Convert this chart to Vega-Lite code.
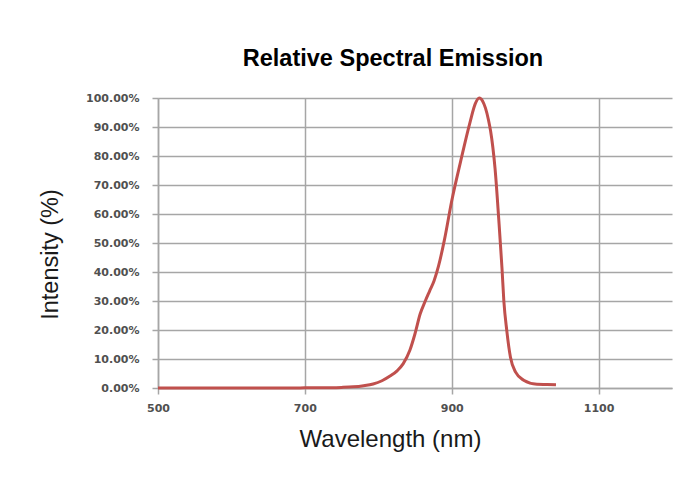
{
  "$schema": "https://vega.github.io/schema/vega-lite/v6.json",
  "width": 514,
  "height": 290,
  "autosize": "none",
  "padding": {"left": 158, "top": 98, "right": 22, "bottom": 92},
  "background": "white",
  "title": {
    "text": "Relative Spectral Emission",
    "font": "Liberation Sans",
    "fontSize": 23.5,
    "fontWeight": "bold",
    "color": "#000000",
    "offset": 22,
    "dx": -22
  },
  "data": {
    "values": [
      {"wavelength": 500, "intensity": 0},
      {"wavelength": 550, "intensity": 0},
      {"wavelength": 600, "intensity": 0},
      {"wavelength": 650, "intensity": 0},
      {"wavelength": 700, "intensity": 0.0005},
      {"wavelength": 730, "intensity": 0.001},
      {"wavelength": 750, "intensity": 0.002},
      {"wavelength": 766, "intensity": 0.004},
      {"wavelength": 780, "intensity": 0.008},
      {"wavelength": 793, "intensity": 0.014},
      {"wavelength": 805, "intensity": 0.025},
      {"wavelength": 816, "intensity": 0.041},
      {"wavelength": 826, "intensity": 0.06},
      {"wavelength": 834, "intensity": 0.084},
      {"wavelength": 843, "intensity": 0.13},
      {"wavelength": 850, "intensity": 0.187},
      {"wavelength": 857, "intensity": 0.255},
      {"wavelength": 864, "intensity": 0.30},
      {"wavelength": 870, "intensity": 0.335},
      {"wavelength": 876, "intensity": 0.37},
      {"wavelength": 882, "intensity": 0.42},
      {"wavelength": 890, "intensity": 0.51},
      {"wavelength": 900, "intensity": 0.645},
      {"wavelength": 912, "intensity": 0.78},
      {"wavelength": 925, "intensity": 0.917},
      {"wavelength": 932, "intensity": 0.98},
      {"wavelength": 937.5, "intensity": 1.0},
      {"wavelength": 942, "intensity": 0.99},
      {"wavelength": 946, "intensity": 0.965},
      {"wavelength": 950, "intensity": 0.925},
      {"wavelength": 953, "intensity": 0.885},
      {"wavelength": 956, "intensity": 0.83},
      {"wavelength": 959, "intensity": 0.757},
      {"wavelength": 964, "intensity": 0.584},
      {"wavelength": 968.5, "intensity": 0.412},
      {"wavelength": 971, "intensity": 0.30},
      {"wavelength": 975, "intensity": 0.198},
      {"wavelength": 980, "intensity": 0.106},
      {"wavelength": 987, "intensity": 0.055},
      {"wavelength": 998, "intensity": 0.027},
      {"wavelength": 1016, "intensity": 0.013},
      {"wavelength": 1030, "intensity": 0.012},
      {"wavelength": 1042, "intensity": 0.011}
    ]
  },
  "mark": {"type": "line", "color": "#c0504d", "strokeWidth": 3, "interpolate": "monotone"},
  "encoding": {
    "x": {
      "field": "wavelength",
      "type": "quantitative",
      "scale": {"domain": [500, 1200], "nice": false, "zero": false},
      "axis": {
        "title": "Wavelength (nm)",
        "values": [500, 700, 900, 1100],
        "format": "d",
        "labelFlush": false,
        "grid": true,
        "gridColor": "#a6a6a6",
        "gridWidth": 1.5,
        "domainColor": "#a6a6a6",
        "domainWidth": 1.5,
        "tickColor": "#a6a6a6",
        "tickWidth": 1.5,
        "tickSize": 6,
        "labelFont": "DejaVu Sans",
        "labelFontWeight": "bold",
        "labelFontSize": 11,
        "labelColor": "#505050",
        "labelPadding": 8,
        "titleFont": "Liberation Sans",
        "titleFontSize": 24,
        "titleFontWeight": "normal",
        "titleColor": "#1a1a1a",
        "titlePadding": 14,
        "titleX": 232
      }
    },
    "y": {
      "field": "intensity",
      "type": "quantitative",
      "scale": {"domain": [0, 1], "nice": false},
      "axis": {
        "title": "Intensity (%)",
        "values": [0, 0.1, 0.2, 0.3, 0.4, 0.5, 0.6, 0.7, 0.8, 0.9, 1.0],
        "format": ".2%",
        "grid": true,
        "gridColor": "#a6a6a6",
        "gridWidth": 1.5,
        "domainColor": "#a6a6a6",
        "domainWidth": 1.5,
        "tickColor": "#a6a6a6",
        "tickWidth": 1.5,
        "tickSize": 6,
        "labelFont": "DejaVu Sans",
        "labelFontWeight": "bold",
        "labelFontSize": 11,
        "labelColor": "#505050",
        "labelPadding": 13,
        "titleFont": "Liberation Sans",
        "titleFontSize": 23.5,
        "titleFontWeight": "normal",
        "titleColor": "#1a1a1a",
        "titlePadding": 23,
        "titleY": 156
      }
    }
  },
  "config": {"view": {"stroke": null}}
}
